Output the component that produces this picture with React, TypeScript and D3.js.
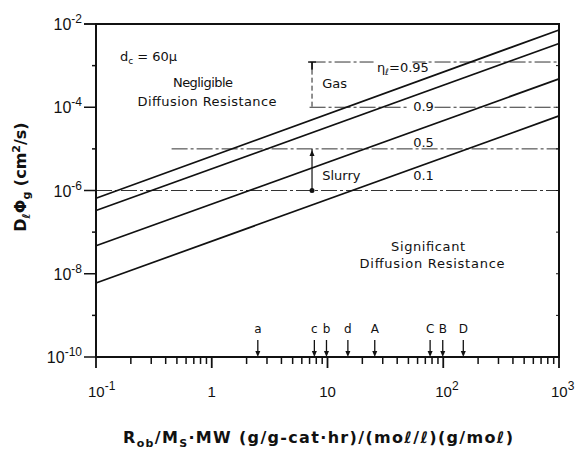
import * as d3 from 'd3';

// line parameter (liquid fraction) and the value of each line at the two ends of the x range
const etaValues = [0.95, 0.9, 0.5, 0.1];
const lineAtLow = [6.5e-7, 3.3e-7, 4.7e-8, 6.0e-9];   // D at R = 0.1
const lineAtHigh = [7.2e-3, 3.4e-3, 4.8e-4, 6.2e-5];  // D at R = 1000

// horizontal dash-dot reference levels and where they start on x
const refLevels = [1.22e-3, 1e-4, 1e-5, 1e-6];
const refStarts = [7.0, 7.0, 0.45, 0.1];

// catalyst / system markers on the x axis
const markerLabels = ['a', 'c', 'b', 'd', 'A', 'C', 'B', 'D'];
const markerValues = [2.5, 7.7, 9.8, 15, 25.6, 77, 99, 149];

const xTicks = [0.1, 1, 10, 100, 1000];
const xTickLabels = [['10', '-1'], ['1', ''], ['10', ''], ['10', '2'], ['10', '3']];
const yTicks = [1e-2, 1e-4, 1e-6, 1e-8, 1e-10];
const yTickLabels = ['-2', '-4', '-6', '-8', '-10'];

const W = 579;
const H = 454;
const font = "'DejaVu Sans', sans-serif";
const tickFont = "'Liberation Sans', sans-serif";

export default function App() {
  const x = d3.scaleLog().domain([0.1, 1000]).range([96, 559]);
  const y = d3.scaleLog().domain([1e-10, 1e-2]).range([357, 24]);
  const [x0, x1] = x.range();
  const [y0, y1] = y.range();

  const line = d3.line<[number, number]>().x(d => x(d[0])).y(d => y(d[1]));

  const decades = d3.range(-10, -1).map(e => Math.pow(10, e));
  const minorX: number[] = [];
  for (let e = -1; e < 3; e++) for (let m = 2; m <= 9; m++) minorX.push(m * Math.pow(10, e));

  const bracketX = x(7.35);
  const txt = { fontFamily: font, fill: '#111' };

  return (
    <div style={{ position: 'fixed', left: 0, top: 0 }}>
      <svg width={W} height={H} style={{ display: 'block', background: '#fff' }}>
        {/* reference levels */}
        {refLevels.map((v, i) => (
          <line key={'r' + i} x1={x(refStarts[i])} x2={x1} y1={y(v)} y2={y(v)}
            stroke="#333" strokeWidth={1} strokeDasharray="16 3 3 3" />
        ))}

        {/* model lines */}
        {etaValues.map((eta, i) => (
          <path key={'l' + eta} d={line([[0.1, lineAtLow[i]], [1000, lineAtHigh[i]]]) || ''}
            fill="none" stroke="#111" strokeWidth={1.7} />
        ))}

        {/* line labels */}
        <g style={{ fontFamily: font, fontSize: 13 }}>
          <rect x={x(25)} y={y(1.22e-3) - 3} width={x(54) - x(25)} height={6} fill="#fff" />
          <text x={x(26.8)} y={y(7.1e-4)} fill="#111">η<tspan fontSize={9} dy={3}>ℓ</tspan><tspan dy={-3}>=0.95</tspan></text>
          <rect x={x(50)} y={y(1e-4) - 3} width={x(80) - x(50)} height={6} fill="#fff" />
          <text x={x(55)} y={y(8.1e-5)} fill="#111">0.9</text>
          <text x={x(55)} y={y(1.08e-5)} fill="#111">0.5</text>
          <text x={x(55)} y={y(1.8e-6)} fill="#111">0.1</text>
        </g>

        {/* gas bracket */}
        <line x1={bracketX - 4} x2={bracketX + 4} y1={y(1.22e-3)} y2={y(1.22e-3)} stroke="#111" strokeWidth={1.3} />
        <line x1={bracketX} x2={bracketX} y1={y(1.22e-3)} y2={y(8e-4)} stroke="#111" strokeWidth={1.8} />
        <line x1={bracketX} x2={bracketX} y1={y(8e-4)} y2={y(1e-4)} stroke="#222" strokeWidth={1} strokeDasharray="5 3" />
        <text x={x(9)} y={y(2.9e-4)} style={{ ...txt, fontSize: 13 }}>Gas</text>

        {/* slurry bracket */}
        <line x1={bracketX} x2={bracketX} y1={y(1e-5)} y2={y(1e-6)} stroke="#111" strokeWidth={1.2} />
        <path d={`M${bracketX},${y(1e-5) + 1}l-2.5,6h5z`} fill="#111" />
        <circle cx={bracketX} cy={y(1e-6)} r={2.5} fill="#111" />
        <text x={x(9)} y={y(1.75e-6)} style={{ ...txt, fontSize: 13 }}>Slurry</text>

        {/* region annotations */}
        <text x={x(0.161)} y={y(1.3e-3)} style={{ ...txt, fontSize: 13 }}>d<tspan fontSize={9} dy={3}>c</tspan><tspan dy={-3}> = 60μ</tspan></text>
        <text x={x(0.84)} y={y(3.1e-4)} textAnchor="middle" textLength={60} lengthAdjust="spacing" style={{ ...txt, fontSize: 13 }}>Negligible</text>
        <text x={x(0.91)} y={y(1.1e-4)} textAnchor="middle" textLength={139} lengthAdjust="spacing" style={{ ...txt, fontSize: 13 }}>Diffusion  Resistance</text>
        <text x={x(74)} y={y(3.5e-8)} textAnchor="middle" textLength={74} lengthAdjust="spacing" style={{ ...txt, fontSize: 13 }}>Significant</text>
        <text x={x(80)} y={y(1.36e-8)} textAnchor="middle" textLength={145} lengthAdjust="spacing" style={{ ...txt, fontSize: 13 }}>Diffusion  Resistance</text>

        {/* markers */}
        {markerValues.map((v, i) => (
          <g key={'m' + i} transform={`translate(${x(v)},0)`}>
            <line y1={y0 - 17} y2={y0 - 5} stroke="#111" strokeWidth={1.3} />
            <path d={`M0,${y0}l-2.5,-6h5z`} fill="#111" />
            <text y={y0 - 24} textAnchor="middle" style={{ ...txt, fontSize: 12 }}>{markerLabels[i]}</text>
          </g>
        ))}

        {/* frame */}
        <rect x={x0} y={y1} width={x1 - x0} height={y0 - y1} fill="none" stroke="#111" strokeWidth={2} />

        {/* y ticks */}
        {decades.concat([1e-2]).map(v => {
          const major = yTicks.includes(v);
          return (
            <g key={'yt' + v}>
              <line x1={x0 - (major ? 12 : 4)} x2={x0} y1={y(v)} y2={y(v)} stroke="#111" strokeWidth={1.5} />
              <line x1={x1 - 3} x2={x1} y1={y(v)} y2={y(v)} stroke="#111" strokeWidth={1} />
            </g>
          );
        })}
        {yTicks.map((v, i) => (
          <text key={'yl' + v} x={x0 - 14} y={y(v) + 6} textAnchor="end" style={{ ...txt, fontFamily: tickFont, fontSize: 16 }}>
            10<tspan dy={-7} fontSize={12}>{yTickLabels[i]}</tspan>
          </text>
        ))}

        {/* x ticks */}
        {minorX.map(v => (
          <line key={'xm' + v} x1={x(v)} x2={x(v)} y1={y0} y2={y0 + 7} stroke="#111" strokeWidth={1.5} />
        ))}
        {xTicks.map((v, i) => (
          <g key={'xt' + v}>
            <line x1={x(v)} x2={x(v)} y1={y0} y2={y0 + 11} stroke="#111" strokeWidth={1.8} />
            {xTickLabels[i][1] ? (
              <text x={x(v) - 8} y={y0 + 40} style={{ ...txt, fontFamily: tickFont, fontSize: 15 }}>
                {xTickLabels[i][0]}<tspan dy={-7} fontSize={12}>{xTickLabels[i][1]}</tspan>
              </text>
            ) : (
              <text x={x(v)} y={y0 + 40} textAnchor="middle" style={{ ...txt, fontFamily: tickFont, fontSize: 15 }}>{xTickLabels[i][0]}</text>
            )}
          </g>
        ))}

        {/* axis titles */}
        <text transform={`translate(26,177) rotate(-90)`} textAnchor="middle" style={{ ...txt, fontSize: 16, fontWeight: 'bold' }}>
          D<tspan fontSize={11} dy={4}>ℓ</tspan><tspan dy={-4}>Φ</tspan><tspan fontSize={11} dy={4}>g</tspan><tspan dy={-4}> (cm</tspan><tspan fontSize={11} dy={-6}>2</tspan><tspan dy={6}>/s)</tspan>
        </text>
        <text x={123} y={443} textLength={390} lengthAdjust="spacing" style={{ ...txt, fontSize: 16, fontWeight: 'bold' }}>
          R<tspan fontSize={11} dy={4}>ob</tspan><tspan dy={-4}>/M</tspan><tspan fontSize={11} dy={4}>S</tspan><tspan dy={-4}>·MW  (g/g-cat·hr)/(moℓ/ℓ)(g/moℓ)</tspan>
        </text>
      </svg>
    </div>
  );
}
